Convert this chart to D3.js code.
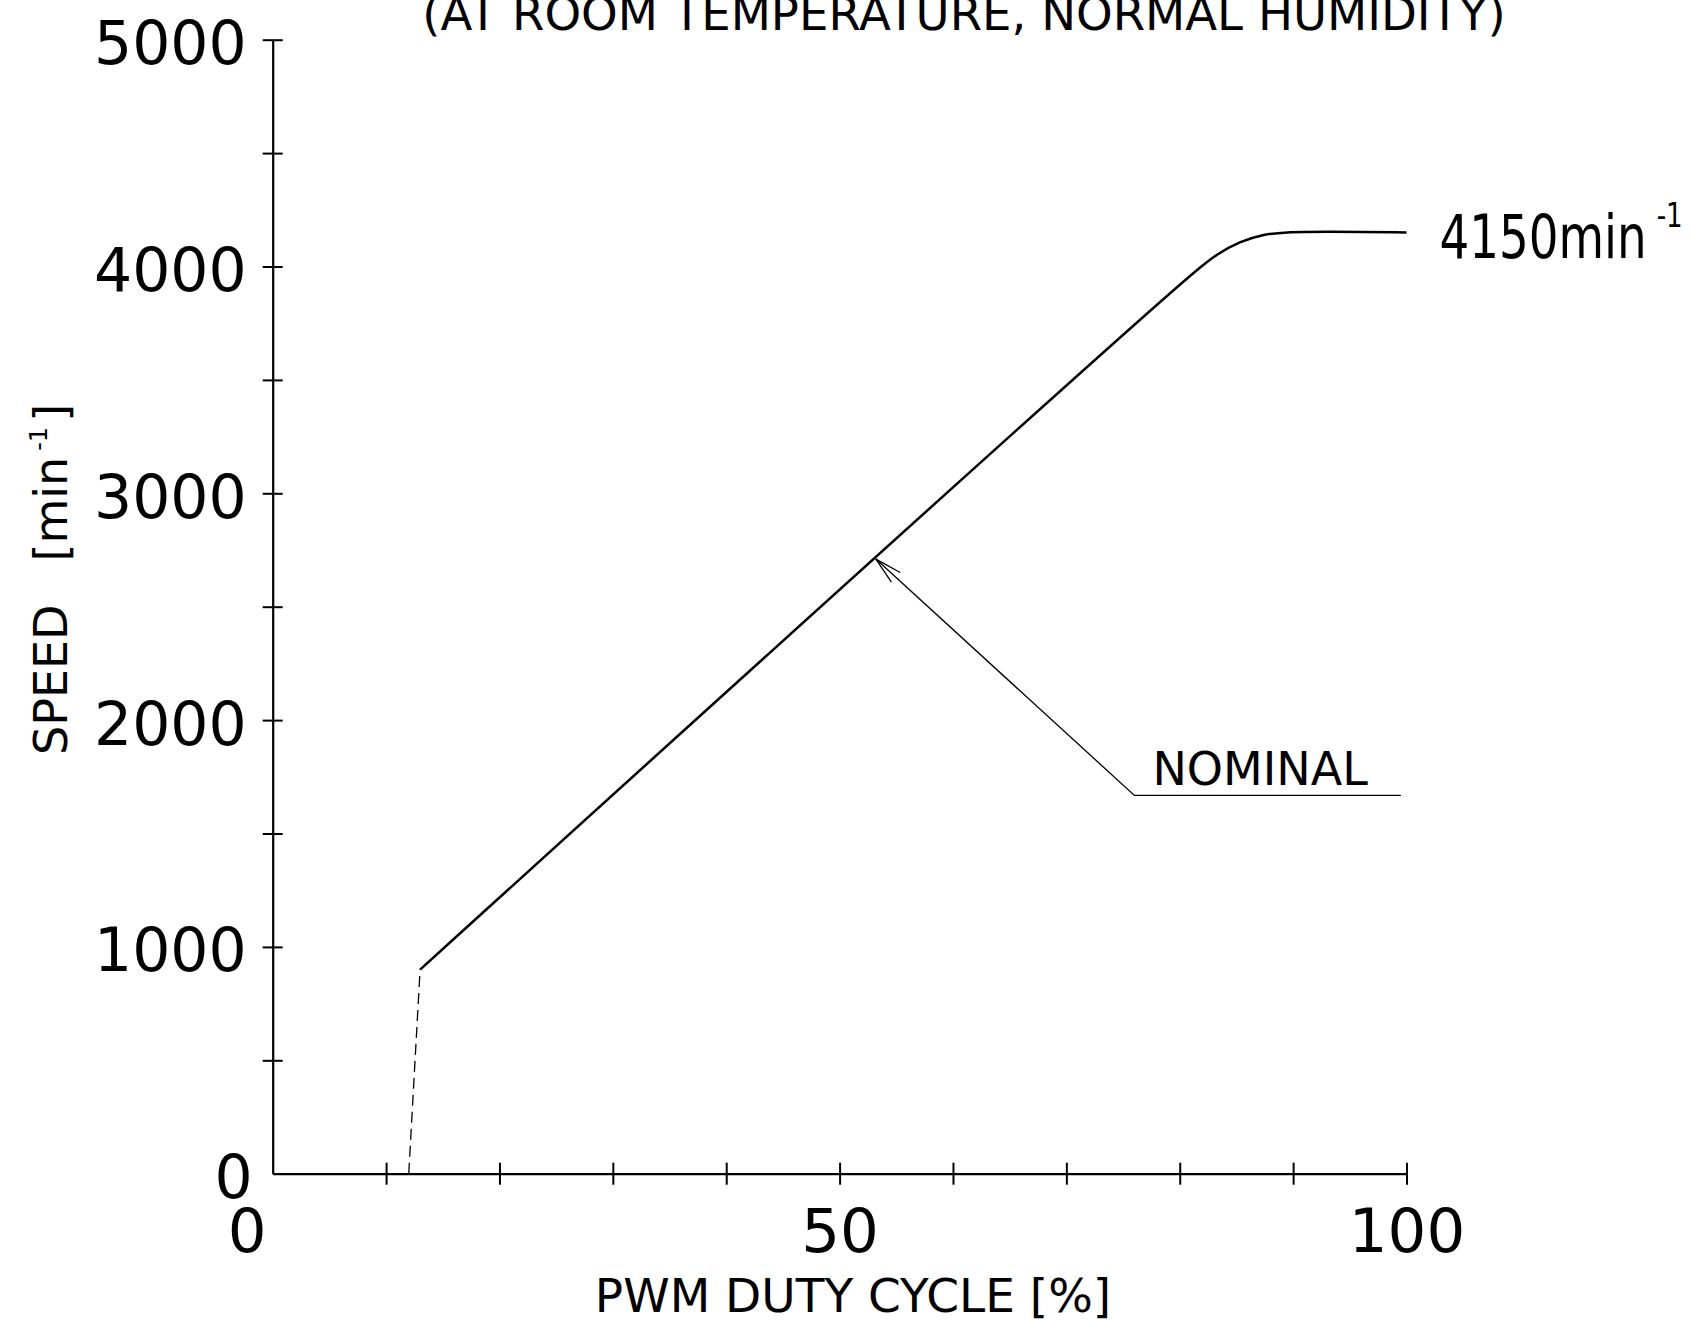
<!DOCTYPE html>
<html>
<head>
<meta charset="utf-8">
<script src="https://cdn.jsdelivr.net/npm/d3@7"></script>
<style>
  body { margin: 0; background: #fff; }
  text { font-family: "DejaVu Sans", Verdana, sans-serif; fill: #000; }
</style>
</head>
<body>
<div id="chart"></div>
<script>
// curve
const duty = [13, 81.3, 83.3, 85.3, 87.4, 89.5, 100];
const speed = [900, 3975, 4052, 4106, 4139, 4150, 4150];
// dashed start-up segment
const dutyStart = [12, 13];
const speedStart = [0, 900];

const xTicks = [10, 20, 30, 40, 50, 60, 70, 80, 90, 100];
const xLabels = [0, 50, 100];
const yTicks = [500, 1000, 1500, 2000, 2500, 3000, 3500, 4000, 4500, 5000];
const yLabels = [0, 1000, 2000, 3000, 4000, 5000];

// annotation: arrow tip on the line, elbow, end of underline (data units)
const nominalTip = [53.2, 2710];
const nominalElbow = [76, 1668];
const nominalEnd = [99.5, 1668];
const endValue = 4150;

const margin = { top: 39.7, right: 283.5, bottom: 146.3, left: 272.7 },
    width = 1690 - margin.left - margin.right,
    height = 1320 - margin.top - margin.bottom;

const svgRoot = d3.select("#chart")
    .append("svg")
    .attr("width", 1690)
    .attr("height", 1320);

const svg = svgRoot.append("g")
    .attr("transform", `translate(${margin.left},${margin.top})`);

const x = d3.scaleLinear().domain([0, 100]).range([0, width]);
const y = d3.scaleLinear().domain([0, 5000]).range([height, 0]);

// Y axis
const yAxis = svg.append("g")
    .call(d3.axisLeft(y)
        .tickValues(yTicks.concat([0]))
        .tickSizeInner(10)
        .tickSizeOuter(0)
        .tickPadding(17)
        .tickFormat(d => yLabels.includes(d) ? d : ""));
yAxis.select(".domain").attr("stroke-width", 2.2);
yAxis.selectAll(".tick line")
    .attr("x1", -10).attr("x2", 10)
    .attr("stroke-width", 2)
    .filter(d => d === 0).remove();
yAxis.selectAll(".tick text")
    .attr("x", -26)
    .attr("dx", d => d === 0 ? 6 : 0)
    .attr("dy", "0.4em")
    .style("font-size", "60px")
    .style("font-family", "DejaVu Sans");

// X axis
const xAxis = svg.append("g")
    .attr("transform", `translate(0, ${height})`)
    .call(d3.axisBottom(x)
        .tickValues([0].concat(xTicks))
        .tickSizeInner(11)
        .tickSizeOuter(0)
        .tickPadding(24)
        .tickFormat(d => xLabels.includes(d) ? d : ""));
xAxis.select(".domain").attr("stroke-width", 2.2);
xAxis.selectAll(".tick line")
    .attr("y1", -11).attr("y2", 11)
    .attr("stroke-width", 2)
    .filter(d => d === 0).remove();
xAxis.selectAll(".tick text")
    .style("font-size", "61px")
    .style("font-family", "DejaVu Sans")
    .attr("dx", d => d === 0 ? -26 : 0);

// curve
const line = d3.line()
    .x(d => x(d[0]))
    .y(d => y(d[1]))
    .curve(d3.curveCatmullRom.alpha(0.5));

svg.append("path")
    .datum(duty.map((d, i) => [d, speed[i]]))
    .attr("fill", "none")
    .attr("stroke", "#000")
    .attr("stroke-width", 2.5)
    .attr("stroke-linejoin", "round")
    .attr("d", line);

svg.append("path")
    .datum(dutyStart.map((d, i) => [d, speedStart[i]]))
    .attr("fill", "none")
    .attr("stroke", "#000")
    .attr("stroke-width", 1.3)
    .attr("stroke-dasharray", "11,6")
    .attr("d", d3.line().x(d => x(d[0])).y(d => y(d[1])));

// NOMINAL leader with open arrow
svgRoot.append("defs").append("marker")
    .attr("id", "openArrow")
    .attr("markerUnits", "userSpaceOnUse")
    .attr("viewBox", "-30 -10 32 20")
    .attr("refX", 0).attr("refY", 0)
    .attr("markerWidth", 32).attr("markerHeight", 20)
    .attr("orient", "auto")
    .append("path")
    .attr("d", "M-27,-6.5 L0,0 L-27,6.5")
    .attr("fill", "none")
    .attr("stroke", "#000")
    .attr("stroke-width", 1.3);

svg.append("path")
    .attr("fill", "none")
    .attr("stroke", "#000")
    .attr("stroke-width", 1.3)
    .attr("marker-end", "url(#openArrow)")
    .attr("d", d3.line()([
        [x(nominalEnd[0]), y(nominalEnd[1])],
        [x(nominalElbow[0]), y(nominalElbow[1])],
        [x(nominalTip[0]), y(nominalTip[1])]
    ]));

svg.append("text")
    .attr("x", x(nominalElbow[0]) + 18)
    .attr("y", y(nominalElbow[1]) - 10)
    .style("font-size", "46px")
    .text("NOMINAL");

// end value label
const endLabel = svg.append("text")
    .attr("transform", `translate(${x(100) + 33},${y(endValue) + 26}) scale(1,1.16)`)
    .style("font-size", "52px")
    .style("font-family", "DejaVu Sans Condensed, DejaVu Sans");
endLabel.append("tspan").text(endValue + "min");
endLabel.append("tspan")
    .attr("dx", 10).attr("dy", -27)
    .style("font-size", "29px")
    .text("-1");

// title (second line visible at the top)
svgRoot.append("text")
    .attr("x", 964)
    .attr("y", 29.5)
    .attr("text-anchor", "middle")
    .style("font-size", "46.6px")
    .text("(AT ROOM TEMPERATURE, NORMAL HUMIDITY)");

// axis titles
svgRoot.append("text")
    .attr("x", 853)
    .attr("y", 1312)
    .attr("text-anchor", "middle")
    .style("font-size", "47px")
    .text("PWM DUTY CYCLE [%]");

const yTitle = svgRoot.append("text")
    .attr("transform", "translate(67, 755) rotate(-90)")
    .style("font-size", "46px");
yTitle.append("tspan").text("SPEED");
yTitle.append("tspan").attr("dx", 43).text("[min");
yTitle.append("tspan")
    .attr("dx", 6).attr("dy", -20)
    .style("font-size", "24px")
    .text("-1");
yTitle.append("tspan")
    .attr("dx", 5).attr("dy", 20)
    .text("]");
</script>
</body>
</html>
